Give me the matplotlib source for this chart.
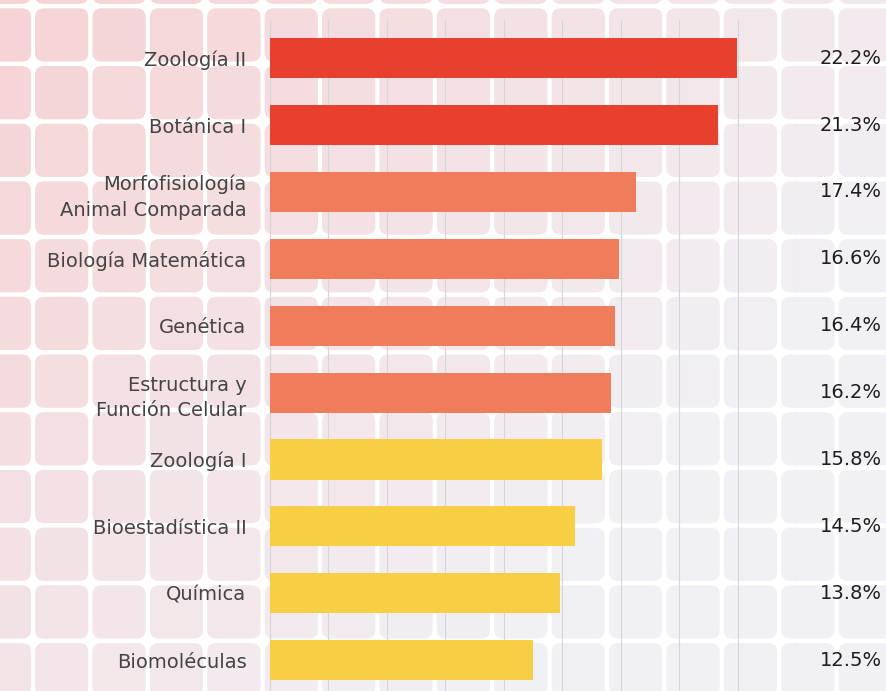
import numpy as np
import matplotlib
matplotlib.use("Agg")
import matplotlib.pyplot as plt
from matplotlib.patches import FancyBboxPatch

categories = ["Zoología II", "Botánica I", "Morfofisiología\nAnimal Comparada",
              "Biología Matemática", "Genética", "Estructura y\nFunción Celular",
              "Zoología I", "Bioestadística II", "Química", "Biomoléculas"]
values = [22.2, 21.3, 17.4, 16.6, 16.4, 16.2, 15.8, 14.5, 13.8, 12.5]
value_labels = ["22.2%", "21.3%", "17.4%", "16.6%", "16.4%", "16.2%", "15.8%", "14.5%", "13.8%", "12.5%"]
RED, SALMON, YELLOW = "#E8402F", "#EF7C5B", "#F8CF44"
bar_colors = [RED, RED, SALMON, SALMON, SALMON, SALMON, YELLOW, YELLOW, YELLOW, YELLOW]

W, H = 886, 691
fig = plt.figure(figsize=(W / 100, H / 100), dpi=100)
fig.patch.set_facecolor("white")

# decorative background of rounded tiles
bg = fig.add_axes([0, 0, 1, 1], zorder=-1)
bg.set_xlim(0, W)
bg.set_ylim(H, 0)
bg.axis("off")
pink = np.array([246, 210, 211]) / 255
grey = np.array([241, 240, 245]) / 255
pitch_x, pitch_y, size = 57.4, 57.7, 53.3
for x0 in np.arange(35 - pitch_x, W, pitch_x):
    for y0 in np.arange(8.3 - pitch_y, H, pitch_y):
        cx, cy = x0 + size / 2, y0 + size / 2
        t = np.clip(0.8 * cx / W + 0.6 * cy / H, 0, 1)
        c = pink * (1 - t) + grey * t
        bg.add_patch(FancyBboxPatch((x0, y0), size, size,
                                    boxstyle="round,pad=0,rounding_size=9",
                                    facecolor=c, edgecolor="none"))

ax = fig.add_axes([270 / W, 0, 526 / W, 1 - 20 / H])
ax.patch.set_alpha(0)
y = np.arange(len(categories))
ax.barh(y, values, height=0.6, color=bar_colors, zorder=3)
ax.set_xlim(0, 25)
ax.set_ylim(9.46, -0.57)
ax.set_xticks(np.linspace(0, 25, 10))
ax.set_xticklabels([])
ax.tick_params(axis="x", length=0)
ax.grid(axis="x", color="#d6d6da", linewidth=0.8, zorder=0)
for s in ["top", "right", "bottom"]:
    ax.spines[s].set_visible(False)
ax.spines["left"].set_color("#d6d6da")
ax.spines["left"].set_linewidth(0.8)
ax.set_yticks(y)
ax.set_yticklabels(categories, fontsize=14, color="#444444", linespacing=1.45,
                   family="DejaVu Sans")
ax.tick_params(axis="y", length=0, pad=17)

for yi, lab in zip(y, value_labels):
    ax.annotate(lab, xy=((882 - 270) / 526, yi), xycoords=("axes fraction", "data"),
                ha="right", va="center", fontsize=14, color="#1e1e1e",
                family="DejaVu Sans")

fig.savefig("out.png", dpi=100)
